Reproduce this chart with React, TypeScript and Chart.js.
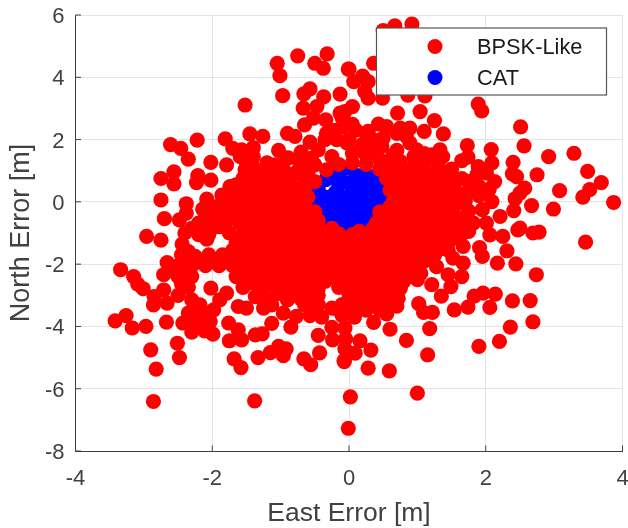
import React, { useEffect, useRef } from "react";
import { Chart, registerables } from "chart.js";

Chart.register(...registerables);

const FONT = "'Liberation Sans', Arial, sans-serif";
const seriesNames = ["BPSK-Like", "CAT"];
const xTitle = "East Error [m]";
const yTitle = "North Error [m]";

const bpskOuterTop: number[][] = [
  [-0.75,4.69],[-0.32,4.75],[-1.05,4.45],[-1.01,4.05],[-0.5,4.45],[-0.375,4.29],[-0.01,4.26],[-0.97,3.41],[-1.52,3.11],[-0.57,3.63],[-0.66,3.47],[-0.37,3.37],[-0.13,3.46],[-0.67,3.01],[-0.47,3.06],[-0.65,2.47],[-0.52,2.69],[-0.34,2.63],[-0.13,2.85],[-0.9,2.2],[-0.79,2.1],[-0.57,1.92],[-1.45,2.18],[-1.26,2.1],[-1.81,2.02],[-2.22,1.98],[-2.61,1.84],[-2.46,1.72],[-2.35,1.37],[-2.02,1.27],[-1.79,1.19],[-2.56,0.96],[-2.75,0.75],[-2.56,0.58],[-2.21,0.84],[-2.23,0.62],[-2.02,0.7],[-2.75,0.06],[-2.38,-0.06],[-2.08,0.09],[-2.7,-0.54],[-2.48,-0.58],[-2.38,-0.36],[-2.14,-0.23],[-1.03,1.65],[-1.7,1.72],[-1.4,1.74],
  [0.92,5.71],[0.67,5.65],[0.5,5.5],[0.36,4.45],[0.0,4.26],[0.2,4.04],[0.07,3.86],[0.28,3.86],[0.23,3.54],[0.28,3.33],[0.49,3.33],[0.86,3.43],[1.11,3.4],[0.05,3.06],[-0.06,2.9],[0.71,2.85],[1.04,2.9],[1.25,2.61],[1.89,3.14],[1.94,2.92],[2.51,2.41],[2.56,1.8],[3.29,1.56],[2.92,1.45],[2.08,1.68],[1.73,1.81],[1.38,2.18],[1.1,2.26],[0.05,2.49],[0.43,2.5],[0.55,2.42],[0.75,2.37],[0.89,2.37],[0.28,2.26],[3.49,0.98],[3.69,0.62],[3.52,0.39],[3.42,0.15],[3.87,-0.02],[2.99,-0.23],[3.08,0.36],[2.75,0.87],[2.4,1.27],[2.39,0.9],[2.45,0.81],[2.57,0.44],[2.5,0.28],[2.43,0.1],[2.67,-0.12],[2.41,-0.28],
];
const bpskOuterBottom: number[][] = [
  [2.78,-0.97],[2.69,-1.0],[2.5,-0.84],[3.46,-1.29],[2.74,-2.34],[2.44,-1.99],[2.17,-1.97],[2.31,-1.57],[1.95,-1.75],[1.91,-1.47],[2.25,-1.11],[2.47,-0.9],[2.06,-1.06],[2.14,-2.96],[1.96,-2.93],[1.83,-3.03],[1.74,-3.38],[1.54,-3.47],[2.06,-3.39],[2.39,-3.18],[2.65,-3.17],[2.69,-3.85],[2.36,-4.02],[2.2,-4.48],[1.9,-4.64],[1.15,-4.91],[0.84,-4.45],[1.18,-4.07],[0.6,-4.09],[0.36,-3.87],[1.0,-6.14],[0.59,-5.43],[0.28,-5.34],[0.02,-6.26],[-0.01,-7.27],[0.32,-4.76],[0.16,-4.46],[0.09,-4.86],[-0.07,-5.13],[1.22,-3.55],[1.09,-3.55],[1.02,-3.27],[1.35,-3.03],[1.21,-2.66],[1.49,-2.72],[1.65,-2.4],[1.45,-2.34],[1.67,-1.97],[1.52,-1.81],[1.67,-1.43],[1.28,-2.08],
  [-2.96,-1.11],[-2.75,-1.23],[-2.44,-1.36],[-2.66,-1.95],[-3.34,-2.18],[-3.15,-2.4],[-3.09,-2.64],[-3.01,-2.79],[-2.71,-2.34],[-2.45,-2.63],[-2.71,-2.83],[-2.85,-3.04],[-2.66,-3.25],[-2.86,-3.31],[-3.42,-3.82],[-3.26,-3.65],[-3.17,-4.05],[-2.97,-4.0],[-2.67,-3.86],[-2.9,-4.75],[-2.51,-4.54],[-2.48,-5.0],[-2.82,-5.37],[-2.86,-6.41],[-1.38,-6.39],[-1.58,-5.32],[-1.68,-5.04],[-1.33,-5.0],[-1.15,-4.84],[-1.03,-4.64],[-0.92,-4.72],[-0.96,-4.94],[-0.66,-5.04],[-0.56,-5.23],[-0.43,-4.85],[-0.45,-4.29],[-0.24,-4.43],[-0.25,-4.03],[-0.06,-4.72],[-0.07,-5.1],[-1.75,-4.46],[-1.57,-4.43],[-1.37,-4.27],[-1.27,-4.24],[-1.13,-3.9],[-0.85,-4.02],[-0.57,-3.65],[-0.77,-3.68],[-0.96,-3.57],[-0.25,-3.41],[-1.76,-3.89],[-1.62,-4.11],[-1.99,-4.25],[-2.11,-4.14],[-2.3,-4.18],[-2.43,-3.89],[-2.35,-3.57],[-2.15,-3.63],[-2.03,-3.84],[-1.98,-3.47],[-2.3,-3.15],[-2.18,-3.31],[-1.89,-3.15],[-1.79,-2.93],[-2.02,-2.77],[-1.62,-3.36],[-1.5,-3.41],[-1.37,-3.04],[-1.25,-3.41],[-1.13,-3.31],
];
const bpskUpperBody: number[][] = [
  [0.35,2.0],[0.5,2.05],[0.7,2.2],[0.84,2.1],[0.99,1.67],[0.0,2.0],[0.16,1.67],[0.48,1.78],[0.64,1.5],[0.89,1.89],[-0.09,2.41],[-0.33,2.2],[-0.45,1.67],[-0.25,1.45],[-0.03,1.89],[-0.18,2.0],[-0.89,1.41],[-0.72,1.25],[-0.5,1.19],[-0.33,1.03],[-0.76,0.96],[-1.08,1.09],[-1.25,0.93],[-0.98,0.65],[-1.74,0.49],[-1.86,0.22],[-1.5,1.24],[-1.4,1.45],[-1.59,1.45],[-1.57,1.67],[-1.54,1.45],[-1.52,1.03],[-1.42,1.19],[-0.91,1.4],[-1.08,1.19],[-1.01,0.77],
  [-0.2,2.3],[-0.35,2.0],[0.1,2.3],[0.25,2.2],[-0.1,2.7],[0.05,1.55],[0.25,1.5],[0.45,1.35],[0.75,1.3],[0.95,1.45],[1.1,1.2],[1.3,1.25],[0.85,0.95],[0.65,0.95],[1.05,0.9],[1.25,0.9],
  [1.33,1.67],[1.37,1.45],[1.21,1.51],[1.65,1.32],[1.74,1.44],[2.09,1.25],[1.89,1.13],[1.52,0.65],[1.74,0.33],[2.13,0.65],[2.01,0.93],[1.87,0.87],[2.09,0.01],[1.7,0.01],[2.21,-0.47],[2.01,-0.68],[1.82,-0.68],[1.55,-0.47],[1.36,-0.2],[1.9,0.5],[2.05,0.4],[1.9,0.2],[1.6,0.2],[1.95,-0.25],[1.75,-0.3],
  [-1.65,0.55],[-1.45,0.6],[-1.25,0.55],[-1.05,0.5],[-0.85,0.55],[-0.65,0.55],[-0.5,0.65],[0.65,0.55],[0.85,0.6],[1.05,0.55],[1.25,0.55],[1.4,0.6],
  [-1.75,0.2],[-1.55,0.2],[-1.35,0.25],[-1.15,0.2],[-0.95,0.2],[-0.75,0.2],[-0.6,0.15],[0.7,0.2],[0.9,0.2],[1.1,0.25],[1.3,0.2],[1.45,0.15],
  [-2.0,-0.15],[-1.85,-0.15],[-1.65,-0.1],[-1.45,-0.15],[-1.25,-0.15],[-1.05,-0.15],[-0.85,-0.1],[-0.65,-0.15],[0.6,-0.15],[0.8,-0.15],[1.0,-0.1],[1.2,-0.15],[1.4,-0.1],
  [-2.1,-0.5],[-1.95,-0.5],[-1.75,-0.45],[-1.55,-0.5],[-1.35,-0.5],[-1.15,-0.45],[-0.95,-0.5],[-0.75,-0.5],[-0.55,-0.5],[0.5,-0.5],[0.7,-0.5],[0.9,-0.45],[1.1,-0.5],[1.3,-0.5],[1.5,-0.45],[1.7,-0.5],
];
const bpskLowerBody: number[][] = [
  [-2.3,-0.85],[-2.1,-0.85],[-1.9,-0.8],[-1.75,-1.0],[-1.45,-0.85],[-1.25,-0.85],[-1.05,-0.85],[-0.85,-0.85],[-0.65,-0.85],[-0.45,-0.85],[-0.25,-0.85],[-0.05,-1.2],[0.15,-0.95],[0.35,-0.85],[0.55,-0.85],[0.75,-0.85],[0.95,-0.85],[1.15,-0.85],[1.35,-0.85],[1.55,-0.85],[1.75,-0.95],
  [-2.2,-1.05],[-1.65,-1.3],[-1.5,-1.2],[-1.3,-1.2],[-1.1,-1.2],[-0.9,-1.2],[-0.7,-1.2],[-0.5,-1.2],[-0.3,-1.2],[0.1,-1.25],[0.3,-1.2],[0.5,-1.2],[0.7,-1.2],[0.9,-1.2],[1.1,-1.2],[1.3,-1.2],[1.5,-1.2],
  [-2.45,-1.7],[-2.25,-1.75],[-2.05,-1.7],[-1.85,-1.7],[-1.65,-1.7],[-1.45,-1.55],[-1.25,-1.55],[-1.05,-1.55],[-0.85,-1.55],[-0.65,-1.55],[-0.45,-1.55],[-0.25,-1.55],[-0.05,-1.55],[0.15,-1.55],[0.35,-1.55],[0.55,-1.55],[0.75,-1.55],[0.95,-1.55],[1.15,-1.55],[1.3,-1.55],[1.45,-1.55],
  [-2.5,-2.05],[-2.3,-2.05],[-2.1,-2.05],[-1.9,-2.05],[-1.7,-2.05],[-1.5,-1.9],[-1.3,-1.9],[-1.1,-1.9],[-0.9,-1.9],[-0.7,-1.9],[-0.5,-1.9],[-0.3,-1.9],[-0.1,-1.9],[0.1,-1.9],[0.3,-1.9],[0.5,-1.9],[0.7,-1.9],[0.9,-1.9],[1.1,-1.9],
  [-2.5,-2.4],[-2.3,-2.4],[-1.65,-2.4],[-1.45,-2.25],[-1.25,-2.25],[-1.05,-2.25],[-0.85,-2.25],[-0.65,-2.25],[-0.45,-2.25],[-0.25,-2.25],[-0.05,-2.25],[0.15,-2.25],[0.35,-2.25],[0.55,-2.25],[0.75,-2.25],[0.95,-2.2],
  [-2.35,-2.75],[-1.55,-2.75],[-1.35,-2.65],[-1.15,-2.6],[-0.95,-2.6],[-0.75,-2.6],[-0.55,-2.6],[-0.35,-2.55],[-0.15,-2.6],[0.05,-2.6],[0.25,-2.6],[0.45,-2.6],[0.65,-2.6],[0.8,-2.55],[1.0,-2.5],
  [-1.0,-2.95],[-0.8,-2.95],[-0.6,-2.95],[-0.45,-3.0],[0.0,-2.95],[0.2,-2.95],[0.4,-2.95],[0.6,-2.95],[0.72,-3.1],
  [-0.65,-3.3],[-0.45,-3.3],[-0.1,-3.3],[0.1,-3.3],[0.3,-3.3],[0.5,-3.3],[0.7,-3.35],[0.55,-3.6],[-0.1,-3.65],[0.08,-3.7],[-0.4,-3.7],[-0.06,-4.05],[-0.05,-4.4],
];
const bpskFillUpper: number[][] = [
  [-1.35,1.0],[-1.2,1.25],[-0.95,1.0],[-0.6,0.95],[-0.55,1.4],[-0.7,1.6],[-0.15,1.2],[0.05,1.25],[0.25,1.2],[0.45,1.05],[0.55,1.25],[0.2,1.85],[0.35,1.6],[0.7,1.65],[0.75,1.05],[0.95,1.15],[1.1,1.55],[1.5,1.05],[1.4,0.95],
  [-1.55,0.75],[-1.35,0.75],[-1.15,0.75],[-0.85,0.8],[-0.65,0.75],[0.55,0.75],[0.75,0.78],[0.95,0.75],[1.15,0.75],[1.35,0.75],[1.65,0.75],[1.75,0.65],
  [-1.65,0.38],[-1.45,0.4],[-1.25,0.38],[-1.05,0.35],[-0.85,0.38],[-0.65,0.38],[0.6,0.38],[0.8,0.38],[1.0,0.38],[1.2,0.38],[1.4,0.38],[1.55,0.38],
  [-1.85,0.02],[-1.65,0.05],[-1.45,0.03],[-1.25,0.03],[-1.05,0.03],[-0.85,0.03],[-0.65,0.03],[0.65,0.03],[0.85,0.03],[1.05,0.05],[1.25,0.03],[1.45,-0.02],[1.6,-0.05],
  [-2.05,-0.32],[-1.9,-0.32],[-1.7,-0.3],[-1.5,-0.32],[-1.3,-0.32],[-1.1,-0.3],[-0.9,-0.32],[-0.7,-0.32],[-0.5,-0.32],[0.45,-0.32],[0.65,-0.32],[0.85,-0.3],[1.05,-0.32],[1.25,-0.32],[1.45,-0.3],
  [-2.2,-0.68],[-2.0,-0.68],[-1.8,-0.65],[-1.6,-0.68],[-1.4,-0.68],[-1.2,-0.68],[-1.0,-0.68],[-0.8,-0.68],[-0.6,-0.68],[-0.45,-0.6],[0.4,-0.68],[0.6,-0.68],[0.8,-0.68],[1.0,-0.68],[1.2,-0.68],[1.4,-0.68],[1.6,-0.68],
];
const bpskFillLower: number[][] = [
  [-2.4,-1.0],[-2.05,-1.05],[-2.08,-1.2],[-1.55,-1.03],[-1.35,-1.03],[-1.15,-1.03],[-0.95,-1.03],[-0.75,-1.03],[-0.55,-1.03],[-0.35,-1.03],[-0.15,-1.03],[0.05,-1.05],[0.25,-1.03],[0.45,-1.03],[0.65,-1.03],[0.85,-1.03],[1.05,-1.03],[1.25,-1.03],[1.45,-1.03],[1.65,-1.03],
  [-1.6,-1.4],[-1.4,-1.38],[-1.2,-1.38],[-1.0,-1.38],[-0.8,-1.38],[-0.6,-1.38],[-0.4,-1.38],[-0.2,-1.38],[0.0,-1.38],[0.2,-1.38],[0.4,-1.38],[0.6,-1.38],[0.8,-1.38],[1.0,-1.38],[1.2,-1.38],[1.4,-1.38],
  [-2.35,-1.6],[-1.7,-1.55],[-1.55,-1.72],[-1.35,-1.72],[-1.15,-1.72],[-0.95,-1.72],[-0.75,-1.72],[-0.55,-1.72],[-0.35,-1.72],[-0.15,-1.72],[0.05,-1.72],[0.25,-1.72],[0.45,-1.72],[0.65,-1.72],[0.85,-1.72],[1.05,-1.72],[1.25,-1.72],
  [-2.6,-2.2],[-2.4,-1.9],[-2.2,-1.9],[-2.0,-1.9],[-1.8,-1.9],[-1.6,-2.08],[-1.4,-2.08],[-1.2,-2.08],[-1.0,-2.08],[-0.8,-2.08],[-0.6,-2.08],[-0.4,-2.08],[-0.2,-2.08],[0.0,-2.08],[0.2,-2.08],[0.4,-2.08],[0.6,-2.08],[0.8,-2.08],[1.0,-2.08],
  [-2.4,-2.22],[-1.55,-2.42],[-1.35,-2.42],[-1.15,-2.42],[-0.95,-2.42],[-0.75,-2.42],[-0.55,-2.42],[-0.35,-2.42],[-0.15,-2.42],[0.05,-2.42],[0.25,-2.42],[0.45,-2.42],[0.65,-2.42],[0.85,-2.4],[1.05,-2.3],
  [-1.45,-2.6],[-1.25,-2.78],[-1.05,-2.78],[-0.85,-2.78],[-0.65,-2.78],[-0.45,-2.78],[-0.15,-2.75],[0.15,-2.78],[0.35,-2.78],[0.55,-2.78],[0.75,-2.78],[-0.9,-3.15],[-0.7,-3.12],[-0.55,-3.12],[0.05,-3.12],[0.25,-3.12],[0.45,-3.12],[0.65,-3.12],[-0.55,-3.48],[-0.15,-3.48],[0.05,-3.48],[0.25,-3.48],[0.45,-3.48],[-1.2,-3.1],[-2.5,-3.0],[-2.2,-3.55],[-2.2,-3.9],[-2.3,-3.8],
];
const catEdge: number[][] = [
  [0.015,1.1],[0.37,0.81],[0.5,0.17],[0.38,-0.19],[0.21,-0.63],[0.0,-0.92],[-0.32,-0.58],[-0.48,-0.04],[-0.45,0.39],[-0.34,0.71],[-0.13,0.87],[-0.12,-0.62],[0.28,0.55],[0.42,0.02],
  [-0.23,0.92],[-0.46,0.17],[-0.38,-0.31],[-0.11,-0.58],[0.21,0.87],[0.45,0.45],[0.42,-0.03],[0.05,-0.75],[0.3,-0.45],
];
const catInner: number[][] = [
  [0.0,0.6],[0.15,0.3],[0.0,0.0],[-0.2,0.3],[-0.25,-0.2],[0.15,-0.25],[0.2,0.7],[-0.1,-0.45],[0.1,0.85],[-0.15,0.55],[0.35,0.3],[0.3,0.05],[-0.35,0.15],[-0.1,0.15],[0.12,0.05],[0.08,-0.55],[0.25,-0.4],[-0.3,-0.4],[-0.05,-0.2],[-0.2,0.05],[0.05,0.4],[0.25,-0.15],
];

const toPoints = (rows: number[][]) => rows.map(([x, y]) => ({ x, y }));
const bpskPoints = toPoints([...bpskOuterTop, ...bpskOuterBottom, ...bpskUpperBody, ...bpskLowerBody, ...bpskFillUpper, ...bpskFillLower]);
const catPoints = toPoints([...catEdge, ...catInner]);

const RED = "#ff0000";
const BLUE = "#0000ff";
const AXIS = "#404040";
const GRID = "#e4e4e4";

const decoration = {
  id: "matlabFrame",
  afterDatasetsDraw(chart: any) {
    const { ctx, chartArea: a, scales } = chart;
    ctx.save();
    ctx.strokeStyle = AXIS;
    ctx.lineWidth = 1;
    ctx.beginPath();
    scales.x.ticks.forEach((t: any) => {
      const p = scales.x.getPixelForValue(t.value);
      ctx.moveTo(p, a.bottom);
      ctx.lineTo(p, a.bottom - 5.5);
    });
    scales.y.ticks.forEach((t: any) => {
      const p = scales.y.getPixelForValue(t.value);
      ctx.moveTo(a.left, p);
      ctx.lineTo(a.left + 5.5, p);
    });
    ctx.stroke();
    ctx.restore();
  },
  afterDraw(chart: any) {
    const { ctx } = chart;
    ctx.save();
    ctx.fillStyle = "#ffffff";
    ctx.strokeStyle = "#555555";
    ctx.lineWidth = 1.2;
    ctx.fillRect(376.5, 28, 230, 67);
    ctx.strokeRect(376.5, 28, 230, 67);
    ctx.font = `21.8px ${FONT}`;
    ctx.textBaseline = "middle";
    ctx.textAlign = "left";
    const rows = [
      { y: 46.5, c: RED },
      { y: 77.5, c: BLUE },
    ];
    rows.forEach((r, i) => {
      ctx.fillStyle = r.c;
      ctx.beginPath();
      ctx.arc(435, r.y, 7.5, 0, Math.PI * 2);
      ctx.fill();
      ctx.fillStyle = "#1a1a1a";
      ctx.fillText(seriesNames[i], 477, r.y + 1);
    });
    ctx.restore();
  },
};

const clearPadding = (s: any) => {
  s.paddingLeft = 0;
  s.paddingRight = 0;
  s.paddingTop = 0;
  s.paddingBottom = 0;
};

export default function App() {
  const ref = useRef<HTMLCanvasElement>(null);
  useEffect(() => {
    document.body.style.margin = "0";
    const chart = new Chart(ref.current as HTMLCanvasElement, {
      type: "scatter",
      data: {
        datasets: [
          { label: seriesNames[0], data: bpskPoints, backgroundColor: RED, borderColor: RED, pointRadius: 7.6, pointBorderWidth: 0 },
          { label: seriesNames[1], data: catPoints, backgroundColor: BLUE, borderColor: BLUE, pointRadius: 7.6, pointBorderWidth: 0 },
        ],
      },
      options: {
        responsive: false,
        animation: false,
        layout: { autoPadding: false, padding: { left: 0, right: 5.5, top: 15, bottom: 0 } },
        plugins: { legend: { display: false }, tooltip: { enabled: false } },
        scales: {
          x: {
            type: "linear",
            min: -4,
            max: 4,
            afterFit: (s: any) => { s.height = 77; clearPadding(s); },
            ticks: { stepSize: 2, color: AXIS, padding: 15, font: { family: FONT, size: 22 } },
            grid: { color: GRID, lineWidth: 1, tickLength: 0 },
            border: { color: AXIS, width: 1 },
            title: { display: true, text: xTitle, color: AXIS, font: { family: FONT, size: 26.5 }, padding: { top: 0, bottom: -2 } },
          },
          y: {
            type: "linear",
            min: -8,
            max: 6,
            afterFit: (s: any) => { s.width = 75.5; clearPadding(s); },
            ticks: { stepSize: 2, color: AXIS, padding: 11, labelOffset: 2, font: { family: FONT, size: 22 } },
            grid: { color: GRID, lineWidth: 1, tickLength: 0 },
            border: { color: AXIS, width: 1 },
            title: { display: true, text: yTitle, color: AXIS, font: { family: FONT, size: 27 }, padding: { top: 5, bottom: 0 } },
          },
        },
      },
      plugins: [decoration],
    } as any);
    return () => chart.destroy();
  }, []);
  return <canvas ref={ref} width={628} height={528} style={{ display: "block" }} />;
}
